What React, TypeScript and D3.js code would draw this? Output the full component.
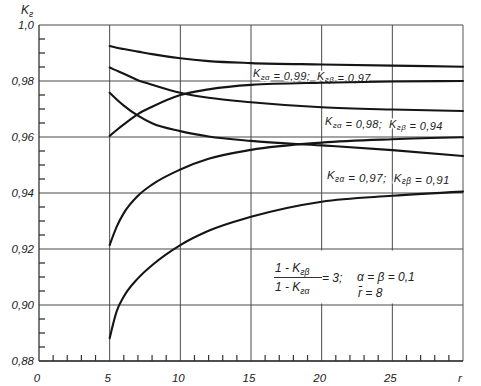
import * as d3 from "d3";

const rValues = [5, 5.5, 6, 7, 8, 10, 12, 15, 20, 25, 30];

// decreasing curves (K_z)
const kA99 = [0.9925, 0.9919, 0.9914, 0.9905, 0.9896, 0.9881, 0.9871, 0.9864, 0.9859, 0.9855, 0.9851];
const kA98 = [0.9848, 0.9837, 0.9826, 0.9803, 0.9787, 0.9758, 0.974, 0.9724, 0.9706, 0.9698, 0.9693];
const kA97 = [0.9758, 0.9734, 0.9712, 0.9676, 0.9649, 0.9621, 0.9602, 0.9586, 0.957, 0.9553, 0.9532];
// increasing curves
const kB97 = [0.9604, 0.9625, 0.9645, 0.9682, 0.9708, 0.975, 0.977, 0.9786, 0.9794, 0.9798, 0.98];
const kB94 = [0.9214, 0.928, 0.9328, 0.939, 0.943, 0.9484, 0.9522, 0.9554, 0.958, 0.9592, 0.9599];
const kB91 = [0.8881, 0.8978, 0.903, 0.9095, 0.9142, 0.9214, 0.9265, 0.9315, 0.9369, 0.939, 0.9405];

const series = [kA99, kA98, kA97, kB97, kB94, kB91];

const xMajor = [0, 5, 10, 15, 20, 25];
const yMajor = [1.0, 0.98, 0.96, 0.94, 0.92, 0.9, 0.88];
const yLabels = ["1,0", "0,98", "0,96", "0,94", "0,92", "0,90", "0,88"];

const width = 481;
const height = 386;
const font = "'Liberation Sans', Arial, sans-serif";

export default function App() {
  const x = d3.scaleLinear().domain([0, 30]).range([39, 463]);
  const y = d3.scaleLinear().domain([0.88, 1.0]).range([361, 25]);
  const line = d3
    .line<number>()
    .x((_, i) => x(rValues[i]))
    .y((v) => y(v))
    .curve(d3.curveMonotoneX);

  const xMinor = d3.range(1, 30).filter((v) => v % 5 !== 0);
  const yMinor = d3.range(0, 24).map((i) => 0.88 + i * 0.005).filter((_, i) => i % 4 !== 0);

  const grid = "#4a4a4a";
  const sub = (s: string) => (
    <tspan fontSize="0.72em" dy="2.5">{s}</tspan>
  );
  const up = <tspan dy="-2.5" />;
  // curve labels sit on a thin white halo, like the printed figure
  const label = {
    whiteSpace: "pre" as const,
    paintOrder: "stroke" as const,
    stroke: "#fff",
    strokeWidth: 3,
    letterSpacing: 0.4,
  };
  const pre = { whiteSpace: "pre" as const };

  return (
    <svg
      width={width}
      height={height}
      style={{ position: "absolute", left: 0, top: 0, background: "#fff" }}
      fontFamily={font}
      fontStyle="italic"
    >
      <rect width={width} height={height} fill="#fff" />

      {/* grid */}
      {xMajor.filter((v) => v > 0).map((v) => (
        <line key={"gx" + v} x1={x(v)} x2={x(v)} y1={y(1)} y2={y(0.88)} stroke={grid} strokeWidth={1} />
      ))}
      {yMajor.map((v) => (
        <line key={"gy" + v} x1={x(0)} x2={x(30)} y1={y(v)} y2={y(v)} stroke={grid} strokeWidth={1.1} />
      ))}
      <rect x={x(15) + 6} y={y(0.92) + 1.5} width={x(30) - x(15) - 7} height={y(0.9) - y(0.92) - 3} fill="#fff" />

      {/* frame */}
      <line x1={x(0)} x2={x(0)} y1={y(1)} y2={y(0.88)} stroke="#333" strokeWidth={1.3} />
      <line x1={x(30)} x2={x(30)} y1={y(1)} y2={y(0.88)} stroke="#555" strokeWidth={1} />
      <line x1={x(0)} x2={x(30)} y1={y(0.88)} y2={y(0.88)} stroke="#333" strokeWidth={1.3} />

      {/* minor ticks */}
      {yMinor.map((v) => (
        <line key={"my" + v} x1={x(0)} x2={x(0) + 6} y1={y(v)} y2={y(v)} stroke="#333" strokeWidth={1.3} />
      ))}
      {xMinor.map((v) => (
        <line key={"mx" + v} x1={x(v)} x2={x(v)} y1={y(0.88)} y2={y(0.88) - 6} stroke="#333" strokeWidth={1.2} />
      ))}

      {/* curve labels (under the curves so the halo does not cut them) */}
      <text x={253} y={77} fontSize={11} fill="#222" style={label}>
        K{sub("гα")}{up}{" = 0,99;  K"}{sub("гβ")}{up}{" = 0,97"}
      </text>
      <text x={325} y={125} fontSize={11} fill="#222" style={label}>
        K{sub("гα")}{up}{" = 0,98;  K"}{sub("гβ")}{up}{" = 0,94"}
      </text>
      <text x={327} y={179} fontSize={11.5} fill="#222" style={label}>
        K{sub("гα")}{up}{" = 0,97;  K"}{sub("гβ")}{up}{" = 0,91"}
      </text>

      {/* curves */}
      {series.map((s, i) => (
        <path key={i} d={line(s) ?? undefined} fill="none" stroke="#151515" strokeWidth={2.1} strokeLinecap="round" />
      ))}

      {/* axis labels */}
      {yMajor.map((v, i) => (
        <text key={"ly" + v} x={34} y={y(v)} dy="0.35em" textAnchor="end" fontSize={11.5} fill="#222">
          {yLabels[i]}
        </text>
      ))}
      {xMajor.map((v) => (
        <text key={"lx" + v} x={x(v) - 2} y={382} textAnchor="middle" fontSize={11.5} fill="#222">
          {v}
        </text>
      ))}
      <text x={460} y={382} textAnchor="middle" fontSize={11.5} fill="#222">r</text>
      <text x={21} y={14} fontSize={12} fill="#222">
        K{sub("г")}
      </text>

      {/* parameters note */}
      <text x={275} y={272} fontSize={12} fill="#222" style={pre}>{"1 - K"}{sub("гβ")}</text>
      <line x1={274} x2={322} y1={277.5} y2={277.5} stroke="#333" strokeWidth={1} />
      <text x={275} y={291} fontSize={12} fill="#222" style={pre}>{"1 - K"}{sub("гα")}</text>
      <text x={322} y={282} fontSize={12} fill="#222">= 3;</text>
      <text x={357} y={281} fontSize={12} fill="#222">α = β = 0,1</text>
      <text x={358} y={297} fontSize={12} fill="#222">{"r\u0304 = 8"}</text>
    </svg>
  );
}
